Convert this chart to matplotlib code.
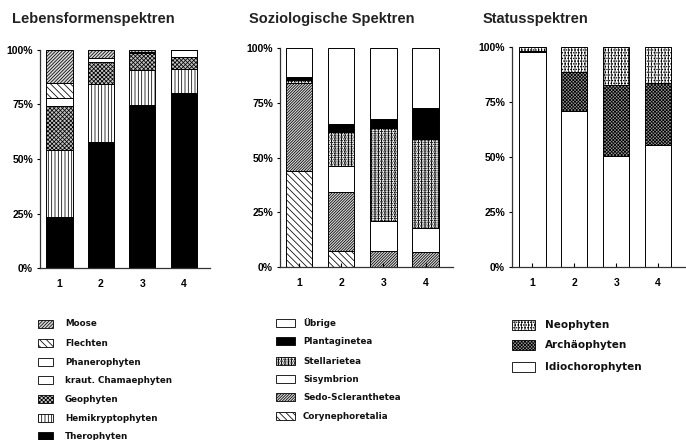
import matplotlib
matplotlib.use('Agg')
import matplotlib.pyplot as plt
from matplotlib.patches import Rectangle
import numpy as np

plt.rcParams['hatch.linewidth'] = 0.55

# Aufnahmeflaechen 1-4, Anteile in %
flaechen = ['1', '2', '3', '4']

# Lebensformenspektren (von unten nach oben)
therophyten = [23.4, 57.8, 74.7, 80.2]
hemikrypto = [30.5, 26.5, 16.2, 11.0]
geophyten = [20.5, 10.4, 7.8, 5.8]
chamaephyten = [3.5, 1.8, 0.5, 3.0]
phanerophyten = [0.0, 0.0, 0.0, 0.0]
flechten = [6.9, 0.0, 0.0, 0.0]
moose = [15.2, 3.5, 0.8, 0.0]

# Soziologische Spektren
corynephoretalia = [43.9, 7.1, 0.0, 0.0]
sedo_scler = [40.2, 27.0, 7.1, 6.8]
sisymbrion = [0.0, 11.8, 14.1, 11.1]
stellarietea = [1.5, 15.9, 42.3, 40.4]
plantaginetea = [1.1, 3.7, 4.2, 14.3]
uebrige = [13.3, 34.5, 32.3, 27.4]

# Statusspektren
idiochoro = [97.6, 70.8, 50.6, 55.3]
archaeo = [0.6, 17.7, 32.3, 28.3]
neophyten = [1.8, 11.5, 17.1, 16.4]

leben = [
    ('Therophyten', therophyten, 'black', ''),
    ('Hemikryptophyten', hemikrypto, 'white', '|||||'),
    ('Geophyten', geophyten, '#c4c4c4', 'xxxxxxxx'),
    ('kraut. Chamaephyten', chamaephyten, 'white', ''),
    ('Phanerophyten', phanerophyten, 'white', ''),
    ('Flechten', flechten, 'white', '\\\\\\\\\\'),
    ('Moose', moose, '#d8d8d8', '//////////'),
]
sozio = [
    ('Corynephoretalia', corynephoretalia, 'white', '\\\\\\\\\\'),
    ('Sedo-Scleranthetea', sedo_scler, '#d8d8d8', '////////////'),
    ('Sisymbrion', sisymbrion, 'white', ''),
    ('Stellarietea', stellarietea, 'white', '|||||.........'),
    ('Plantaginetea', plantaginetea, 'black', ''),
    ('Übrige', uebrige, 'white', ''),
]
status = [
    ('Idiochorophyten', idiochoro, 'white', ''),
    ('Archäophyten', archaeo, '#9a9a9a', 'xxxxxxxxxx'),
    ('Neophyten', neophyten, 'white', '|||||......'),
]

W, H = 686, 440
fig = plt.figure(figsize=(W / 100, H / 100), dpi=100)


def px_axes(x0, y0, x1, y1):
    return fig.add_axes([x0 / W, 1 - y1 / H, (x1 - x0) / W, (y1 - y0) / H])


def stapel(ax, gruppen, xlim, titel, tx):
    x = np.arange(1, len(flaechen) + 1)
    unten = np.zeros(len(flaechen))
    for name, werte, farbe, muster in gruppen:
        ax.bar(x, werte, 0.63, bottom=unten, color=farbe, hatch=muster,
               edgecolor='black', linewidth=0.7)
        unten += np.array(werte)
    ax.set_xlim(*xlim)
    ax.set_ylim(0, 100)
    ax.set_yticks([0, 25, 50, 75, 100])
    ax.set_yticklabels(['0%', '25%', '50%', '75%', '100%'])
    ax.set_xticks(x)
    ax.set_xticklabels(flaechen)
    for s in ['top', 'right']:
        ax.spines[s].set_visible(False)
    for s in ['left', 'bottom']:
        ax.spines[s].set_linewidth(0.9)
        ax.spines[s].set_color('#333333')
    ax.tick_params(axis='x', direction='in', length=3, pad=8)
    ax.tick_params(axis='y', direction='out', length=2, pad=3)
    for lab in ax.get_xticklabels() + ax.get_yticklabels():
        lab.set_fontfamily('Liberation Sans')
        lab.set_fontweight('bold')
        lab.set_fontsize(7.5)
    fig.text(tx / W, 1 - 19 / H, titel, fontsize=10.5, fontweight='bold',
             family='Liberation Sans', va='center', color='#222222')


def legende(gruppen, x0, breite, hoehe, tx, ys, size):
    for (name, werte, farbe, muster), y in zip(reversed(gruppen), ys):
        fig.add_artist(Rectangle((x0 / W, 1 - (y + hoehe / 2) / H), breite / W, hoehe / H,
                                 transform=fig.transFigure, facecolor=farbe,
                                 hatch=muster, edgecolor='black', linewidth=0.6))
        fig.text(tx / W, 1 - y / H, name, fontsize=size, fontweight='bold',
                 family='DejaVu Sans', va='center', color='#111111')


ax1 = px_axes(40, 50, 210, 268)
stapel(ax1, leben, (0.53, 4.63), 'Lebensformenspektren', 12)

ax2 = px_axes(280, 48, 453, 267)
stapel(ax2, sozio, (0.55, 4.65), 'Soziologische Spektren', 249)

ax3 = px_axes(512, 47, 686, 267)
stapel(ax3, status, (0.51, 4.67), 'Statusspektren', 483)

legende(leben, 38, 15, 8, 65, [324, 343, 362, 380, 399, 418, 436], 6.3)
legende(sozio, 276, 19, 8, 303, [323, 341, 361, 379, 397, 416], 6.3)
legende(status, 512, 23, 10, 545, [325, 345, 367], 7.5)

fig.savefig('out.png', dpi=100)
